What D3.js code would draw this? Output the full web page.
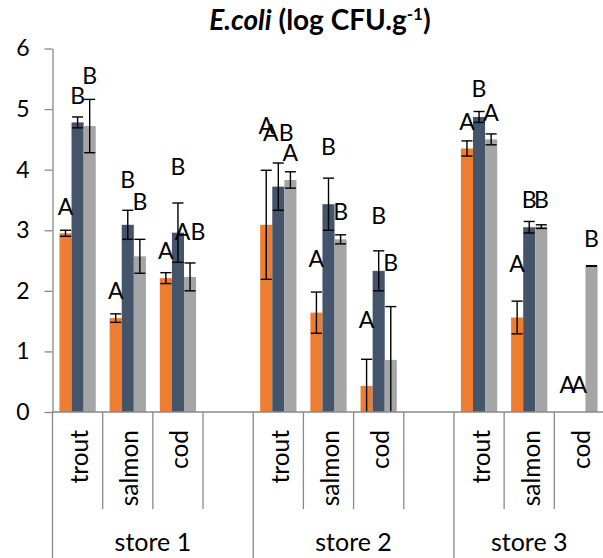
<!DOCTYPE html>
<html>
<head>
<meta charset="utf-8">
<script src="https://cdn.jsdelivr.net/npm/d3@7"></script>
<style>
  body { margin: 0; background: white; }
  text { font-family: Lato, "Open Sans", sans-serif; fill: #000; }
</style>
</head>
<body>
<div id="chart"></div>
<script>
// categories
let stores = ['store 1', 'store 2', 'store 3'];
let fish = ['trout', 'salmon', 'cod'];
let yTicks = [0, 1, 2, 3, 4, 5, 6];

// means (log CFU/g), one value per store x fish
let series1Mean = [2.95, 1.55, 2.21, 3.09, 1.64, 0.43, 4.35, 1.56, 0];
let series2Mean = [4.78, 3.09, 2.96, 3.72, 3.43, 2.33, 4.87, 3.05, 0];
let series3Mean = [4.72, 2.57, 2.23, 3.83, 2.85, 0.86, 4.50, 3.06, 2.41];

// standard deviations
let series1Err = [0.05, 0.07, 0.09, 0.90, 0.34, 0.44, 0.125, 0.27, 0];
let series2Err = [0.09, 0.24, 0.49, 0.39, 0.43, 0.33, 0.09, 0.095, 0];
let series3Err = [0.44, 0.28, 0.23, 0.135, 0.075, 0.88, 0.09, 0.03, 0.005];

// significance letters and the level (log CFU/g) they sit at
let series1Letter = ['A', 'A', 'A', 'A', 'A', 'A', 'A', 'A', 'A'];
let series2Letter = ['B', 'B', 'B', 'AB', 'B', 'B', 'B', 'B', 'A'];
let series3Letter = ['B', 'B', 'AB', 'A', 'B', 'B', 'A', 'B', 'B'];
let series1LetterAt = [3.25, 1.86, 2.53, 4.59, 2.40, 1.38, 4.66, 2.31, 0.31];
let series2LetterAt = [5.09, 3.69, 3.91, 4.47, 4.24, 3.11, 5.20, 3.36, 0.31];
let series3LetterAt = [5.42, 3.33, 2.84, 4.15, 3.17, 2.33, 4.81, 3.36, 2.73];

let seriesNames = ['series 1', 'series 2', 'series 3'];
let colors = ['#ED7D31', '#44546A', '#A5A5A5'];

let width = 603,
    height = 558,
    left = 52.5,
    right = 604.5,
    y0 = 412,
    y6 = 48.5;

// slots: three fish per store plus an empty slot between stores
let slots = [];
stores.forEach((s, i) => {
  fish.forEach(f => slots.push(s + '|' + f));
  if (i < stores.length - 1) slots.push(s + '|gap');
});

let means = [series1Mean, series2Mean, series3Mean];
let errs = [series1Err, series2Err, series3Err];
let letters = [series1Letter, series2Letter, series3Letter];
let letterAt = [series1LetterAt, series2LetterAt, series3LetterAt];

let rows = [];
stores.forEach((s, si) => {
  fish.forEach((f, fi) => {
    let k = si * fish.length + fi;
    seriesNames.forEach((n, j) => {
      rows.push({
        slot: s + '|' + f, series: n, color: colors[j],
        mean: means[j][k], err: errs[j][k],
        letter: letters[j][k], letterAt: letterAt[j][k]
      });
    });
  });
});

let x = d3.scaleBand().domain(slots).range([left, right]);
let xs = d3.scaleBand().domain(seriesNames).range([0, x.bandwidth()]).paddingOuter(0.575);
let y = d3.scaleLinear().domain([0, 6]).range([y0, y6]);

let svg = d3.select('#chart')
  .append('svg')
    .attr('width', width)
    .attr('height', height)
    .style('background', 'white');

svg.append('clipPath').attr('id', 'plot')
  .append('rect').attr('x', 0).attr('y', 0).attr('width', width).attr('height', y0);

// bars
svg.append('g').selectAll('rect')
  .data(rows)
  .enter()
  .append('rect')
    .attr('x', d => x(d.slot) + xs(d.series))
    .attr('y', d => y(d.mean))
    .attr('width', xs.bandwidth())
    .attr('height', d => y0 - y(d.mean))
    .attr('fill', d => d.color);

// error bars
let capW = xs.bandwidth() - 1;
let eb = svg.append('g').attr('clip-path', 'url(#plot)')
  .attr('stroke', '#000').attr('stroke-width', 1.4).attr('fill', 'none')
  .selectAll('g')
  .data(rows.filter(d => d.err > 0))
  .enter()
  .append('g')
    .attr('transform', d => 'translate(' + (x(d.slot) + xs(d.series) + xs.bandwidth() / 2) + ',0)');
eb.append('line')
  .attr('y1', d => y(d.mean - d.err))
  .attr('y2', d => y(d.mean + d.err));
eb.append('line')
  .attr('x1', -capW / 2).attr('x2', capW / 2)
  .attr('y1', d => y(d.mean + d.err)).attr('y2', d => y(d.mean + d.err));
eb.append('line')
  .attr('x1', -capW / 2).attr('x2', capW / 2)
  .attr('y1', d => y(d.mean - d.err)).attr('y2', d => y(d.mean - d.err));

// letters
svg.append('g').selectAll('text')
  .data(rows)
  .enter()
  .append('text')
    .attr('x', d => x(d.slot) + xs(d.series) + xs.bandwidth() / 2)
    .attr('y', d => y(d.letterAt))
    .attr('text-anchor', 'middle')
    .style('font-size', '23px')
    .text(d => d.letter);

// y axis
let yAxis = svg.append('g')
  .attr('transform', 'translate(' + left + ',0)')
  .call(d3.axisLeft(y).tickValues(yTicks).tickFormat(d3.format('d'))
    .tickSize(8).tickSizeOuter(0).tickPadding(15));
yAxis.selectAll('path, line').attr('stroke', '#898989').attr('stroke-width', 1.3);
yAxis.selectAll('text').style('font-size', '23px').attr('fill', '#000').style('font-family', 'Lato, sans-serif');

// x axis line and category dividers
let xAxis = svg.append('g').attr('stroke', '#898989').attr('stroke-width', 1.3);
xAxis.append('line').attr('x1', left).attr('x2', right).attr('y1', y0).attr('y2', y0);
slots.forEach((s, i) => {
  let storeStart = i === 0 || s.split('|')[0] !== slots[i - 1].split('|')[0];
  xAxis.append('line')
    .attr('x1', x(s)).attr('x2', x(s))
    .attr('y1', y0).attr('y2', storeStart ? height : 509);
});

// fish labels
svg.append('g').selectAll('text')
  .data(slots.filter(s => !s.endsWith('|gap')))
  .enter()
  .append('text')
    .attr('transform', s => 'translate(' + (x(s) + x.bandwidth() / 2 + 1) + ',430) rotate(-90)')
    .attr('text-anchor', 'end')
    .attr('dominant-baseline', 'central')
    .style('font-size', '24.5px')
    .text(s => s.split('|')[1]);

// store labels
svg.append('g').selectAll('text')
  .data(stores)
  .enter()
  .append('text')
    .attr('x', s => {
      let own = slots.filter(k => k.split('|')[0] === s);
      return (x(own[0]) + x(own[own.length - 1]) + x.bandwidth()) / 2;
    })
    .attr('y', 551)
    .attr('text-anchor', 'middle')
    .style('font-size', '25px')
    .text(s => s);

// title
let title = svg.append('text')
  .attr('x', 320)
  .attr('y', 30)
  .attr('text-anchor', 'middle')
  .style('font-size', '28px')
  .style('font-weight', 'bold');
title.append('tspan').style('font-style', 'italic').text('E.coli');
title.append('tspan').text(' (log CFU.g');
title.append('tspan').attr('dy', -10).style('font-size', '17px').text('-1');
title.append('tspan').attr('dy', 10).text(')');
</script>
</body>
</html>
